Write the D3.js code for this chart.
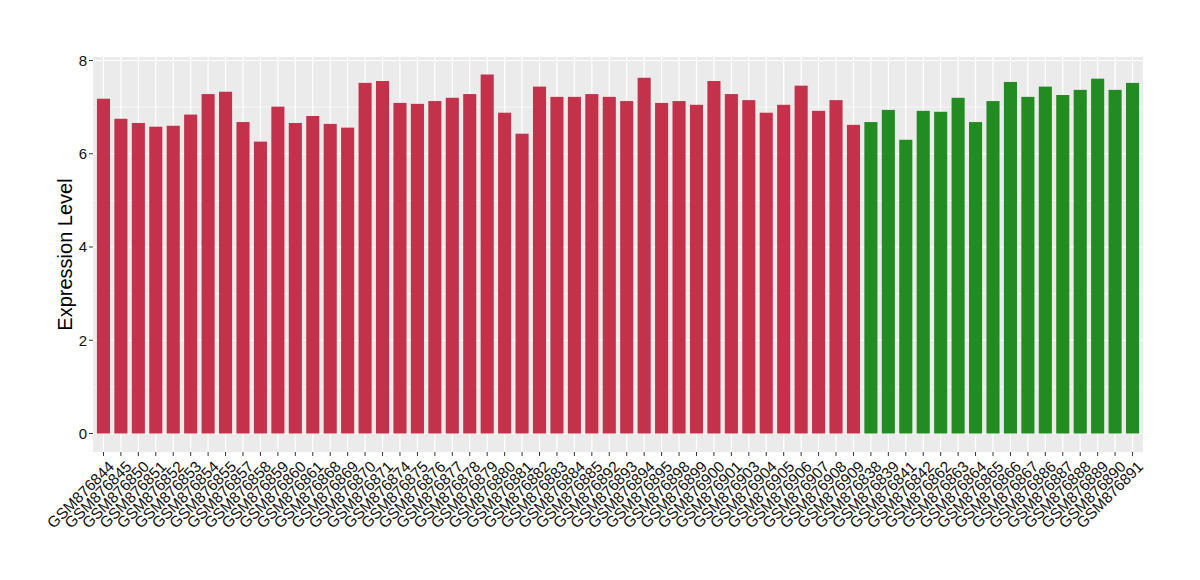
<!DOCTYPE html>
<html><head><meta charset="utf-8">
<script src="https://cdn.jsdelivr.net/npm/d3@7"></script>
<style>body{margin:0;background:#fff}svg{display:block;font-family:"Liberation Sans",Arial,sans-serif}</style>
</head><body><svg id="c" width="1200" height="580"></svg>
<script>
const samples = ["GSM876844","GSM876845","GSM876850","GSM876851","GSM876852","GSM876853","GSM876854","GSM876855","GSM876857","GSM876858","GSM876859","GSM876860","GSM876861","GSM876868","GSM876869","GSM876870","GSM876871","GSM876874","GSM876875","GSM876876","GSM876877","GSM876878","GSM876879","GSM876880","GSM876881","GSM876882","GSM876883","GSM876884","GSM876885","GSM876892","GSM876893","GSM876894","GSM876895","GSM876898","GSM876899","GSM876900","GSM876901","GSM876903","GSM876904","GSM876905","GSM876906","GSM876907","GSM876908","GSM876909","GSM876838","GSM876839","GSM876841","GSM876842","GSM876862","GSM876863","GSM876864","GSM876865","GSM876866","GSM876867","GSM876886","GSM876887","GSM876888","GSM876889","GSM876890","GSM876891"];
const values = [7.18,6.75,6.66,6.58,6.60,6.84,7.28,7.33,6.68,6.26,7.01,6.66,6.81,6.64,6.56,7.52,7.56,7.09,7.07,7.13,7.20,7.28,7.70,6.88,6.43,7.44,7.22,7.22,7.28,7.22,7.13,7.63,7.09,7.13,7.05,7.56,7.28,7.15,6.88,7.05,7.46,6.92,7.15,6.62,6.68,6.94,6.30,6.92,6.90,7.20,6.68,7.13,7.54,7.22,7.44,7.26,7.37,7.61,7.37,7.52];
const groups = [].concat(Array(44).fill("A"), Array(16).fill("B"));
const groupColors = {A:"#c3314a", B:"#228b22"};
const yTicks = [0,2,4,6,8];
const yTitle = "Expression Level";

const svg = d3.select("#c");
const L = 93, R = 1143, T = 57, B = 452;
const n = samples.length;
const x = d3.scaleLinear().domain([-0.6, n - 1 + 0.6]).range([L, R]);
const y = d3.scaleLinear().domain([0, 8]).range([433.5, 60.5]);
const unit = x(1) - x(0);

svg.append("rect").attr("x", L).attr("y", T).attr("width", R - L).attr("height", B - T).attr("fill", "#ebebeb");
[1,3,5,7].forEach(v => svg.append("line").attr("x1", L).attr("x2", R).attr("y1", y(v)).attr("y2", y(v)).attr("stroke", "#fff").attr("stroke-width", 0.6));
yTicks.forEach(v => svg.append("line").attr("x1", L).attr("x2", R).attr("y1", y(v)).attr("y2", y(v)).attr("stroke", "#fff").attr("stroke-width", 1.2));
samples.forEach((s, i) => svg.append("line").attr("x1", x(i)).attr("x2", x(i)).attr("y1", T).attr("y2", B).attr("stroke", "#fff").attr("stroke-width", 1.2));

svg.selectAll("rect.bar").data(values).enter().append("rect").attr("class", "bar")
  .attr("x", (d, i) => x(i) - unit * 0.375).attr("width", unit * 0.75)
  .attr("y", d => y(d)).attr("height", d => y(0) - y(d))
  .attr("fill", (d, i) => groupColors[groups[i]]);

const ya = svg.append("g");
yTicks.forEach(v => {
  ya.append("line").attr("x1", L - 4).attr("x2", L).attr("y1", y(v)).attr("y2", y(v)).attr("stroke", "#333").attr("stroke-width", 1);
  ya.append("text").attr("x", L - 6).attr("y", y(v)).attr("dy", "0.36em").attr("text-anchor", "end").attr("font-size", 15).attr("fill", "#111").text(v);
});
svg.append("text").attr("transform", `translate(72,${(T + B) / 2}) rotate(-90)`).attr("text-anchor", "middle").attr("font-size", 20).attr("fill", "#000").text(yTitle);

samples.forEach((s, i) => {
  svg.append("line").attr("x1", x(i)).attr("x2", x(i)).attr("y1", B).attr("y2", B + 4).attr("stroke", "#333").attr("stroke-width", 1);
  svg.append("text").attr("transform", `translate(${x(i) + 4},${B + 8}) rotate(-45)`).attr("text-anchor", "end").attr("dy", "0.7em")
    .attr("font-size", 15.5).attr("fill", "#111").text(s);
});
</script></body></html>
